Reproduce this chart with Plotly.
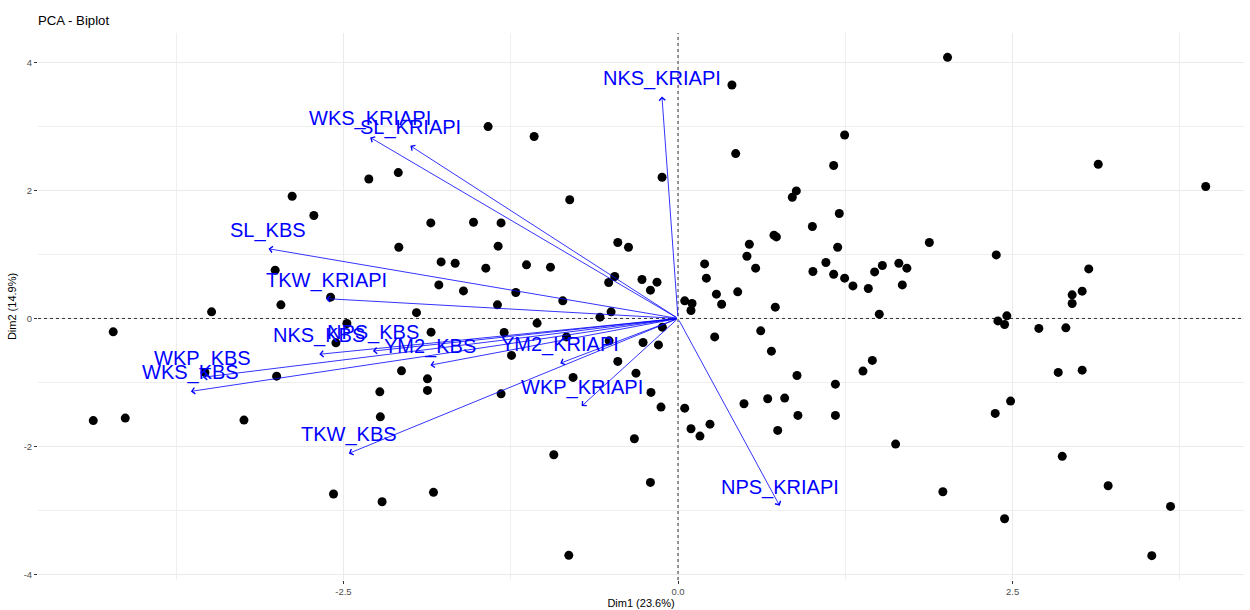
import plotly.graph_objects as go

FONT = "Liberation Sans, Arial, Helvetica, sans-serif"

# Individuals (Dim1, Dim2)
ind_x = [-2.310, -2.090, -2.883, -2.721, -2.086, -3.010, -2.596, -2.967, -3.485, -1.954,
         -4.220, -2.474, -2.556, -3.535, -2.999, -2.066, -2.228, -2.224, -4.369, -4.130,
         -3.243, -2.574, -2.211, -1.419, -1.075, -0.119, 0.403, 0.431, 0.884, 0.854,
         -0.809, -1.847, -1.528, -1.322, -1.344, -0.450, -0.370, -1.770, -1.665, -1.436,
         -1.132, -0.953, -0.473, -0.518, -0.269, -0.157, -0.206, -1.787, -1.603, -1.212,
         -0.861, -1.349, -0.500, -0.583, -1.053, -1.845, -1.299, -0.833, -1.244, -0.261,
         -0.146, -0.117, -0.515, -0.450, -0.314, -0.784, -1.872, -1.872, -1.322, -0.202,
         -0.127, 0.050, 0.050, 0.105, 0.097, 0.199, 0.212, 0.287, 0.326, 0.446,
         0.533, 0.515, 0.580, 0.717, 0.735, 1.004, 1.008, 0.727, 0.274, 0.618,
         0.698, 0.889, 0.493, 0.670, 0.797, 0.896, 0.097, 0.164, 0.239, -0.326,
         -0.928, -0.206, -1.827, -0.816, 0.745, 2.014, 1.245, 1.163, 3.140, 3.943,
         1.205, 1.193, 1.105, 1.163, 1.245, 1.307, 1.422, 1.469, 1.527, 1.650,
         1.710, 1.676, 1.878, 1.504, 2.378, 2.390, 2.457, 2.440, 2.696, 2.898,
         2.945, 2.945, 3.020, 3.069, 2.841, 3.020, 1.382, 1.452, 1.176, 1.176,
         2.370, 2.485, 1.626, 1.979, 2.440, 2.871, 3.214, 3.680, 3.540]
ind_y = [2.181, 2.281, 1.911, 1.609, 1.114, 0.755, 0.333, 0.213, 0.103, 0.091,
         -0.209, -0.078, -0.381, -0.844, -0.902, -0.819, -1.147, -1.538, -1.597, -1.558,
         -1.589, -2.745, -2.866, 3.000, 2.844, 2.208, 3.650, 2.578, 1.994, 1.895,
         1.856, 1.494, 1.505, 1.494, 1.130, 1.188, 1.114, 0.884, 0.864, 0.786,
         0.838, 0.802, 0.656, 0.563, 0.609, 0.567, 0.442, 0.525, 0.431, 0.406,
         0.275, 0.213, 0.103, 0.020, -0.073, -0.214, -0.219, -0.288, -0.578, -0.375,
         -0.413, -0.136, -0.350, -0.672, -0.855, -0.922, -0.944, -1.125, -1.178, -1.156,
         -1.386, -1.402, 0.275, 0.234, 0.125, 0.853, 0.630, 0.380, 0.223, 0.416,
         1.161, 0.973, 0.786, 1.302, 1.275, 1.438, 0.734, 0.177, -0.288, -0.194,
         -0.511, -0.891, -1.334, -1.256, -1.245, -1.516, -1.725, -1.839, -1.652, -1.881,
         -2.131, -2.563, -2.719, -3.703, -1.750, 4.083, 2.869, 2.391, 2.411, 2.063,
         1.641, 1.114, 0.875, 0.692, 0.630, 0.509, 0.469, 0.728, 0.828, 0.864,
         0.786, 0.525, 1.188, 0.067, 0.994, -0.038, 0.041, -0.094, -0.156, -0.147,
         0.369, 0.234, 0.427, 0.775, -0.844, -0.808, -0.823, -0.656, -1.027, -1.516,
         -1.484, -1.292, -1.964, -2.709, -3.131, -2.156, -2.616, -2.938, -3.709]

# Variables (arrow tips)
var_names = ["NKS_KRIAPI", "WKS_KRIAPI", "SL_KRIAPI", "SL_KBS", "TKW_KRIAPI", "NKS_KBS",
             "NPS_KBS", "WKP_KBS", "WKS_KBS", "YM2_KBS", "YM2_KRIAPI", "WKP_KRIAPI",
             "TKW_KBS", "NPS_KRIAPI"]
var_x = [-0.12, -2.30, -2.00, -3.06, -2.63, -2.68, -2.28, -3.55, -3.64, -1.85, -0.88, -0.72, -2.46, 0.76]
var_y = [3.47, 2.83, 2.70, 1.09, 0.31, -0.56, -0.51, -0.92, -1.14, -0.73, -0.70, -1.37, -2.11, -2.93]

x_ticks = [-2.5, 0.0, 2.5]
x_ticklabels = ["-2.5", "0.0", "2.5"]
y_ticks = [-4, -2, 0, 2, 4]
y_ticklabels = ["-4", "-2", "0", "2", "4"]

fig = go.Figure()
fig.add_trace(go.Scatter(x=ind_x, y=ind_y, mode="markers",
                         marker=dict(color="black", size=9, line=dict(width=0)),
                         hoverinfo="skip"))

annotations = []
for name, vx, vy in zip(var_names, var_x, var_y):
    annotations.append(dict(x=vx, y=vy, xref="x", yref="y", ax=0, ay=0, axref="x", ayref="y",
                            text=" ", font=dict(size=1), showarrow=True, arrowhead=4,
                            arrowsize=1.5, arrowwidth=0.8, arrowcolor="#0000FF"))
for name, vx, vy in zip(var_names, var_x, var_y):
    annotations.append(dict(x=vx, y=vy, xref="x", yref="y", text=name, showarrow=False,
                            xanchor="center", yanchor="bottom", yshift=5,
                            font=dict(family=FONT, size=20, color="#0000FF")))

fig.update_layout(
    width=1250, height=610,
    margin=dict(l=38, r=5.5, t=32.7, b=30, autoexpand=False),
    plot_bgcolor="white", paper_bgcolor="white",
    showlegend=False,
    font=dict(family=FONT),
    title=dict(text="PCA - Biplot", x=38 / 1250, xanchor="left", xref="container",
               y=1 - 20 / 610, yanchor="middle", yref="container",
               font=dict(family=FONT, size=13.2, color="black")),
    annotations=annotations,
    shapes=[
        dict(type="line", xref="x", yref="paper", x0=0, x1=0, y0=0, y1=1, layer="above",
             line=dict(color="black", width=0.8, dash="3px,3px")),
        dict(type="line", xref="paper", yref="y", x0=0, x1=1, y0=0, y1=0, layer="above",
             line=dict(color="black", width=0.8, dash="3px,3px")),
    ],
)
fig.update_xaxes(range=[-4.782, 4.229], tickmode="array", tickvals=x_ticks, ticktext=x_ticklabels,
                 automargin=False,
                 showgrid=True, gridcolor="#EBEBEB", gridwidth=1, zeroline=False, showline=False,
                 minor=dict(tickmode="array", tickvals=[-3.75, -1.25, 1.25, 3.75], showgrid=True,
                            gridcolor="#EFEFEF", gridwidth=0.7, ticks=""),
                 ticks="outside", ticklen=3, tickwidth=1, tickcolor="#333333",
                 tickfont=dict(family=FONT, size=9.5, color="#4D4D4D"),
                 title=dict(text="Dim1 (23.6%)", font=dict(family=FONT, size=11, color="black"), standoff=2))
fig.update_yaxes(range=[-4.089, 4.463], tickmode="array", tickvals=y_ticks, ticktext=y_ticklabels,
                 automargin=False,
                 showgrid=True, gridcolor="#EBEBEB", gridwidth=1, zeroline=False, showline=False,
                 minor=dict(tickmode="array", tickvals=[-3, -1, 1, 3], showgrid=True,
                            gridcolor="#EFEFEF", gridwidth=0.7, ticks=""),
                 ticks="outside", ticklen=3, tickwidth=1, tickcolor="#333333",
                 tickfont=dict(family=FONT, size=9.5, color="#4D4D4D"),
                 title=dict(text="Dim2 (14.9%)", font=dict(family=FONT, size=11, color="black"), standoff=4))

fig.write_html("out.html", config={"displayModeBar": False},
               post_script="document.body.style.margin='0';document.body.style.overflow='hidden';")
